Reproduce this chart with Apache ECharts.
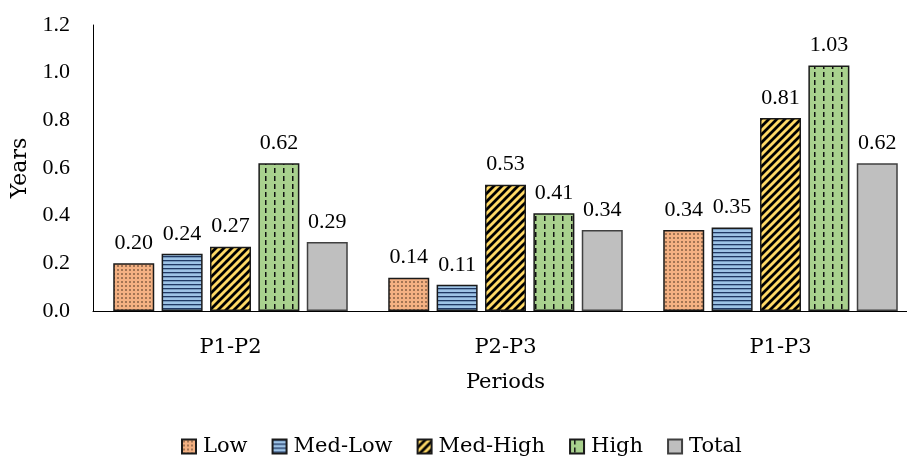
<!DOCTYPE html>
<html>
<head>
<meta charset="utf-8">
<script src="https://cdn.jsdelivr.net/npm/echarts@6/dist/echarts.min.js"></script>
<style>html,body{margin:0;padding:0;background:#fff;overflow:hidden}#c{width:907px;height:457px}</style>
</head>
<body>
<div id="c"></div>
<script>
const categories = ['P1-P2', 'P2-P3', 'P1-P3'];
const seriesNames = ['Low', 'Med-Low', 'Med-High', 'High', 'Total'];
const low = [0.20, 0.14, 0.34];
const medLow = [0.24, 0.11, 0.35];
const medHigh = [0.27, 0.53, 0.81];
const high = [0.62, 0.41, 1.03];
const total = [0.29, 0.34, 0.62];
const yTicks = [0, 0.2, 0.4, 0.6, 0.8, 1.0, 1.2];

const NUM_FONT = 'Liberation Serif';
const TXT_FONT = 'DejaVu Serif';

function pattern(w, h, bg, draw) {
  const c = document.createElement('canvas');
  c.width = w; c.height = h;
  const ctx = c.getContext('2d');
  ctx.fillStyle = bg; ctx.fillRect(0, 0, w, h);
  draw(ctx);
  return { image: c, repeat: 'repeat' };
}
const fills = [
  pattern(4, 4, '#F4B183', ctx => { ctx.fillStyle = '#3b2a1a'; ctx.beginPath(); ctx.arc(2, 2, 0.8, 0, Math.PI * 2); ctx.fill(); }),
  pattern(4, 4, '#9DC3E6', ctx => { ctx.fillStyle = '#1f3864'; ctx.fillRect(0, 0, 4, 1.3); }),
  pattern(8, 8, '#FFD966', ctx => {
    ctx.strokeStyle = '#000'; ctx.lineWidth = 2.8;
    ctx.beginPath();
    ctx.moveTo(-2, 10); ctx.lineTo(10, -2);
    ctx.moveTo(-6, 6); ctx.lineTo(6, -6);
    ctx.moveTo(2, 14); ctx.lineTo(14, 2);
    ctx.stroke();
  }),
  pattern(9, 8, '#A9D18E', ctx => { ctx.fillStyle = '#111'; ctx.fillRect(4, 0, 1.5, 5); }),
  '#BFBFBF'
];
const dataSets = [low, medLow, medHigh, high, total];

const chart = echarts.init(document.getElementById('c'));
chart.setOption({
  animation: false,
  textStyle: { fontFamily: TXT_FONT },
  grid: { left: 93, width: 825, top: 25, height: 286, containLabel: false, outerBoundsMode: 'none' },
  legend: {
    top: 431, left: 176,
    itemWidth: 14, itemHeight: 14, itemGap: 24,
    icon: 'rect',
    textStyle: { fontFamily: TXT_FONT, fontSize: 21, color: '#000', padding: [0, 0, 0, 2] },
    data: seriesNames
  },
  xAxis: {
    type: 'category', data: categories,
    name: 'Periods', nameLocation: 'middle', nameGap: 61,
    nameTextStyle: { fontFamily: TXT_FONT, fontSize: 21, color: '#000' },
    axisLine: { lineStyle: { color: '#000', width: 1 } },
    axisTick: { show: false },
    axisLabel: { fontFamily: TXT_FONT, fontSize: 21, color: '#000', margin: 26 }
  },
  yAxis: {
    type: 'value', min: 0, max: 1.2, interval: 0.2,
    name: 'Years', nameLocation: 'middle', nameGap: 60, nameRotate: 90,
    nameTextStyle: { fontFamily: TXT_FONT, fontSize: 22, color: '#000' },
    axisLine: { show: true, lineStyle: { color: '#000', width: 1 } },
    axisTick: { show: false },
    splitLine: { show: false },
    axisLabel: { fontFamily: NUM_FONT, fontSize: 22, color: '#000', margin: 23,
      formatter: v => yTicks.some(t => Math.abs(t - v) < 1e-9) ? v.toFixed(1) : '' }
  },
  series: seriesNames.map((n, i) => ({
    name: n, type: 'bar', data: dataSets[i],
    barWidth: 41, barGap: '18%',
    itemStyle: { color: fills[i], borderColor: i === 4 ? '#404040' : '#1a1a1a', borderWidth: 1.5 },
    label: { show: true, position: 'top', distance: 9, formatter: p => p.value.toFixed(2),
      fontFamily: NUM_FONT, fontSize: 22, color: '#000' }
  }))
});
</script>
</body>
</html>
